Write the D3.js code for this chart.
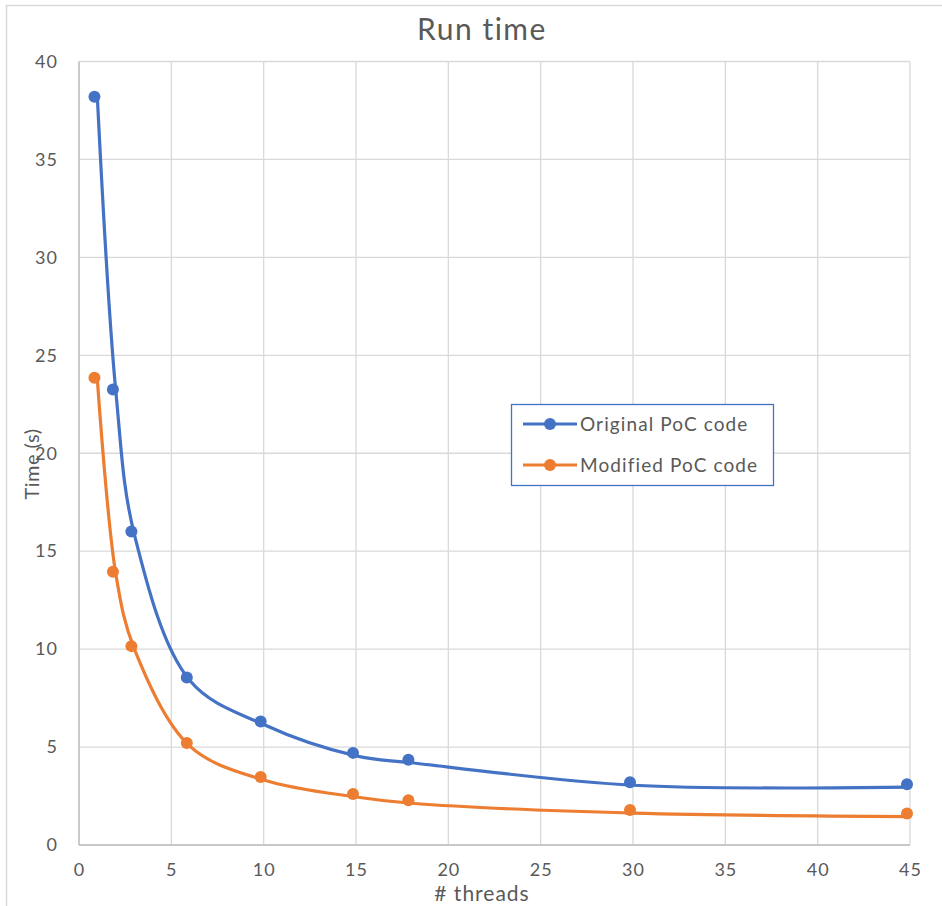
<!DOCTYPE html>
<html><head><meta charset="utf-8">
<script src="https://cdn.jsdelivr.net/npm/d3@7/dist/d3.min.js"></script>
<style>body{margin:0;background:#fff}svg{display:block}</style>
</head><body>
<script>
const threads = [1, 2, 3, 6, 10, 15, 18, 30, 45];
const originalTimes = [38.05, 23.1, 15.85, 8.4, 6.15, 4.55, 4.2, 3.05, 2.95];
const modifiedTimes = [23.7, 13.8, 10.0, 5.05, 3.32, 2.45, 2.13, 1.63, 1.45];
const seriesNames = ["Original PoC code", "Modified PoC code"];
const seriesColors = ["#4472C4", "#ED7D31"];
const xTicks = [0, 5, 10, 15, 20, 25, 30, 35, 40, 45];
const yTicks = [0, 5, 10, 15, 20, 25, 30, 35, 40];

const W = 942, H = 906;
const font = "Lato, 'Open Sans', sans-serif";
const svg = d3.select("body").append("svg").attr("width", W).attr("height", H);
svg.append("rect").attr("x", 6.5).attr("y", 5.5).attr("width", W).attr("height", H)
  .attr("fill", "#fff").attr("stroke", "#d9d9d9").attr("stroke-width", 1.5);

const x = d3.scaleLinear().domain([0, 45]).range([79, 910]);
const y = d3.scaleLinear().domain([0, 40]).range([845, 61.5]);

const g = svg.append("g");
g.selectAll(".vg").data(xTicks).join("line")
  .attr("x1", d => x(d)).attr("x2", d => x(d)).attr("y1", y(40)).attr("y2", y(0))
  .attr("stroke", "#d9d9d9").attr("stroke-width", 1.3);
g.selectAll(".hg").data(yTicks).join("line")
  .attr("x1", x(0)).attr("x2", x(45)).attr("y1", d => y(d)).attr("y2", d => y(d))
  .attr("stroke", "#d9d9d9").attr("stroke-width", 1.3);
g.append("line").attr("x1", x(0)).attr("x2", x(0)).attr("y1", y(40)).attr("y2", y(0)).attr("stroke", "#bfbfbf").attr("stroke-width", 1.5);
g.append("line").attr("x1", x(0)).attr("x2", x(45)).attr("y1", y(0)).attr("y2", y(0)).attr("stroke", "#bfbfbf").attr("stroke-width", 1.5);

const xAxis = d3.axisBottom(x).tickValues(xTicks).tickSize(0).tickPadding(0);
const xg = svg.append("g").attr("transform", `translate(0,${y(0) + 18})`).call(xAxis);
const yAxis = d3.axisLeft(y).tickValues(yTicks).tickSize(0).tickPadding(0);
const yg = svg.append("g").attr("transform", `translate(${x(0) - 21},0)`).call(yAxis);
[xg, yg].forEach(a => {
  a.select(".domain").remove();
  a.selectAll("text").attr("fill", "#595959").attr("font-size", 18).attr("font-family", font).attr("letter-spacing", 1);
});
xg.selectAll("text").attr("dy", "0.71em");

const data = [originalTimes, modifiedTimes];
const line = d3.line().x((d, i) => x(threads[i])).y(d => y(d)).curve(d3.curveCatmullRom.alpha(0.5));
data.forEach((vals, k) => {
  svg.append("path").attr("d", line(vals)).attr("fill", "none")
    .attr("stroke", seriesColors[k]).attr("stroke-width", 3.2).attr("stroke-linecap", "round");
  svg.append("g").attr("transform", "translate(-3,-3)")
    .selectAll("circle").data(vals).join("circle")
    .attr("cx", (d, i) => x(threads[i])).attr("cy", d => y(d)).attr("r", 6)
    .attr("fill", seriesColors[k]);
});

svg.append("text").attr("x", 482).attr("y", 40).attr("text-anchor", "middle")
  .attr("font-size", 30).attr("font-family", font).attr("fill", "#595959").attr("letter-spacing", 1.5).text("Run time");
svg.append("text").attr("x", 482).attr("y", 901).attr("text-anchor", "middle")
  .attr("font-size", 21).attr("font-family", font).attr("fill", "#595959").attr("letter-spacing", 1).text("# threads");
svg.append("text").attr("transform", "translate(39,464) rotate(-90)").attr("text-anchor", "middle")
  .attr("font-size", 20).attr("font-family", font).attr("fill", "#595959").attr("letter-spacing", 0.5).text("Time (s)");

const lg = svg.append("g");
lg.append("rect").attr("x", 511.5).attr("y", 404.5).attr("width", 262).attr("height", 81)
  .attr("fill", "#fff").attr("stroke", "#4472C4").attr("stroke-width", 1.3);
seriesNames.forEach((n, k) => {
  const yy = 424 + k * 41;
  lg.append("line").attr("x1", 523).attr("x2", 577).attr("y1", yy).attr("y2", yy)
    .attr("stroke", seriesColors[k]).attr("stroke-width", 3.2);
  lg.append("circle").attr("cx", 550).attr("cy", yy).attr("r", 6).attr("fill", seriesColors[k]);
  lg.append("text").attr("x", 580).attr("y", yy + 6.5).attr("font-size", 19).attr("font-family", font)
    .attr("fill", "#595959").attr("letter-spacing", 1.1).text(n);
});
</script>
</body></html>
